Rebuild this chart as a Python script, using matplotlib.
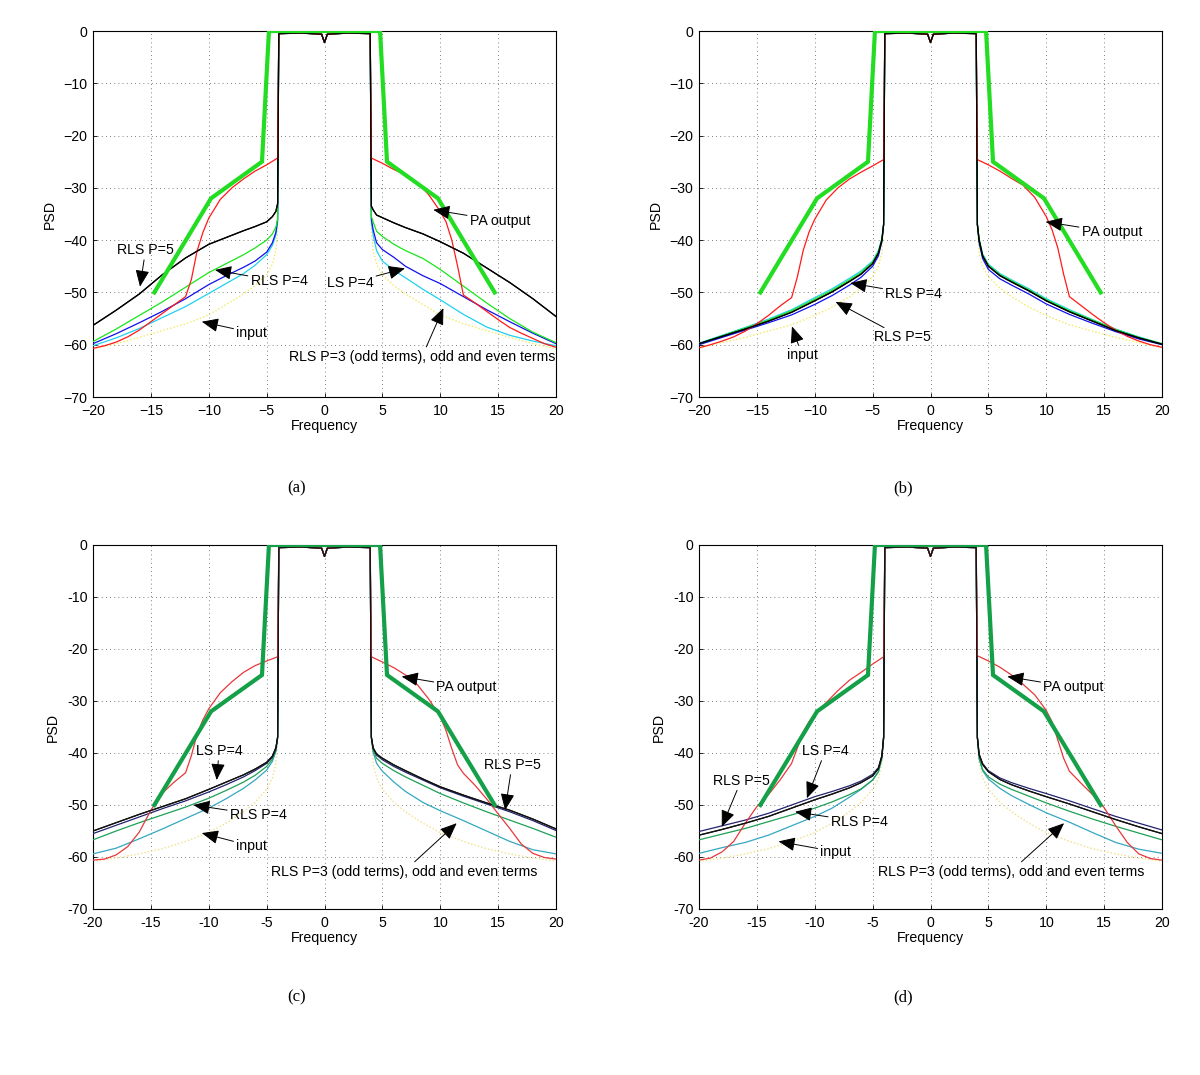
import numpy as np
import matplotlib
matplotlib.use("Agg")
import matplotlib.pyplot as plt

plt.rcParams['font.family'] = ['Liberation Sans', 'DejaVu Sans']

# ---------------- data ----------------
# frequency grids (one-sided offsets; left side uses the mirrored negatives)
F_OUT = [4.05, 4.2, 4.5, 5, 6, 7, 8.5, 10, 12, 14, 16, 18, 20]
F_RED = [4.05, 5, 6, 7, 8, 9, 10, 10.5, 11, 11.5, 12, 13, 14, 15, 16, 17, 18, 19, 20]
F_IN = [-3.95, -2.0, -0.25, 0.0, 0.25, 2.0, 3.95]
PSD_IN = [-0.5, -0.4, -0.6, -2.2, -0.6, -0.4, -0.5]

# spectral mask (thick green)
MASK_F = [-14.7, -9.8, -5.4, -4.8, 4.8, 5.4, 9.8, 14.7]
MASK_P = [-50, -32, -25, 0, 0, -25, -32, -50]

XTICKS = [-20, -15, -10, -5, 0, 5, 10, 15, 20]
YTICKS = [-70, -60, -50, -40, -30, -20, -10, 0]
YLAB_AB = ['\u221270', '\u221260', '\u221250', '\u221240', '\u221230', '\u221220', '\u221210', '0']
XLAB_AB = ['\u221220', '\u221215', '\u221210', '\u22125', '0', '5', '10', '15', '20']
YLAB_CD = ['-70', '-60', '-50', '-40', '-30', '-20', '-10', '0']
XLAB_CD = ['-20', '-15', '-10', '-5', '0', '5', '10', '15', '20']

# ---- panel (a) ---- left lists run from -20 up to -4.05, right lists from 4.05 to 20
a_black_L = [-56.3, -53.4, -50.3, -46.6, -43.4, -40.8, -39.5, -38.2, -37.4, -36.5, -35.5, -34.5, -33.0]
a_black_R = [-33.5, -34.2, -35.2, -35.7, -36.7, -37.6, -38.8, -40.3, -42.5, -45.3, -48.1, -51.2, -54.6]
a_green_L = [-59.4, -57.0, -54.4, -51.8, -49.0, -46.2, -44.5, -42.8, -41.5, -40.0, -38.8, -37.5, -36.0]
a_green_R = [-35.5, -36.5, -38.3, -39.3, -40.8, -42.0, -43.5, -45.6, -48.8, -52.0, -55.0, -57.6, -59.6]
a_blue_L = [-59.8, -57.9, -55.8, -53.6, -51.2, -48.5, -46.8, -45.2, -44.0, -42.3, -40.5, -38.5, -36.0]
a_blue_R = [-36.0, -38.0, -40.5, -41.8, -43.3, -45.0, -46.8, -48.3, -50.8, -53.3, -55.6, -57.8, -59.8]
a_cyan_L = [-60.2, -58.7, -56.9, -54.8, -52.7, -50.2, -48.3, -46.4, -44.8, -42.8, -41.0, -39.0, -36.5]
a_cyan_R = [-36.5, -39.0, -42.0, -44.0, -45.8, -47.2, -49.4, -51.4, -54.2, -56.6, -58.2, -59.3, -60.2]
a_input_L = [-60.8, -59.8, -58.6, -57.3, -56.0, -54.3, -52.3, -50.3, -48.7, -46.6, -44.6, -42.0, -38.0]
a_input_R = [-38.0, -42.0, -44.6, -46.6, -48.7, -50.3, -52.3, -54.3, -56.0, -57.3, -58.6, -59.8, -60.8]
a_red_L = [-60.7, -60.2, -59.5, -58.5, -57.2, -55.6, -54.0, -52.4, -50.8, -47.5, -42.0, -38.5, -35.8,
           -32.2, -30.0, -28.3, -26.8, -25.6, -24.3]
a_red_R = [-24.3, -25.3, -26.5, -27.5, -29.0, -31.3, -34.5, -36.5, -40.0, -45.0, -50.5, -52.0, -53.6,
           -55.2, -56.7, -57.8, -58.8, -59.8, -60.5]

# ---- panel (b) ----
b_black_L = [-59.8, -58.4, -57.0, -55.5, -53.8, -51.6, -49.9, -47.9, -46.5, -44.5, -42.5, -40.0, -37.0]
b_black_R = [-37.0, -40.0, -43.0, -45.0, -46.8, -48.0, -49.7, -51.6, -53.7, -55.5, -57.3, -58.7, -59.9]
b_blue_L = [-60.0, -58.6, -57.2, -55.8, -54.3, -52.3, -50.6, -48.6, -47.1, -45.0, -43.0, -40.3, -37.0]
b_blue_R = [-37.0, -40.5, -43.5, -45.6, -47.4, -48.6, -50.3, -52.2, -54.2, -55.9, -57.5, -58.9, -60.0]
b_cyan_L = [-59.7, -58.2, -56.7, -55.1, -53.3, -51.0, -49.3, -47.3, -45.9, -44.0, -42.0, -39.7, -37.0]
b_cyan_R = [-37.0, -39.7, -42.6, -44.6, -46.4, -47.6, -49.3, -51.2, -53.3, -55.2, -57.0, -58.5, -59.8]
b_green_L = [-59.8, -58.3, -56.8, -55.3, -53.5, -51.3, -49.6, -47.6, -46.2, -44.2, -42.2, -39.8, -37.0]
b_green_R = [-37.0, -39.8, -42.8, -44.8, -46.6, -47.8, -49.5, -51.4, -53.5, -55.3, -57.1, -58.6, -59.8]
b_input_L = [-60.6, -59.6, -58.6, -57.4, -56.2, -54.4, -52.8, -50.8, -49.2, -47.0, -45.0, -42.5, -38.0]
b_input_R = [-38.0, -42.5, -45.0, -47.0, -49.2, -50.8, -52.8, -54.4, -56.2, -57.4, -58.6, -59.6, -60.6]
b_red_L = [-60.6, -60.0, -59.3, -58.5, -57.4, -56.0, -54.4, -52.6, -51.0, -47.0, -42.0, -38.5, -36.0,
           -32.3, -30.0, -28.3, -27.0, -25.8, -24.6]
b_red_R = [-24.6, -25.6, -26.8, -28.2, -29.5, -31.8, -35.5, -38.0, -41.5, -46.5, -50.8, -52.5, -54.2,
           -55.8, -57.2, -58.4, -59.3, -60.0, -60.5]

# ---- panel (c) ----
c_black_L = [-55.0, -53.4, -51.8, -50.3, -48.8, -47.0, -45.6, -44.2, -43.1, -41.8, -40.6, -39.0, -37.0]
c_black_R = [-37.0, -39.0, -40.2, -41.0, -42.3, -43.4, -45.0, -46.5, -48.1, -49.6, -51.0, -52.7, -54.6]
c_navy_L = [-55.5, -53.9, -52.3, -50.7, -49.2, -47.5, -46.1, -44.6, -43.4, -42.0, -40.8, -39.2, -37.0]
c_navy_R = [-37.0, -39.1, -40.4, -41.3, -42.6, -43.7, -45.2, -46.7, -48.3, -49.8, -51.3, -53.0, -54.9]
c_green_L = [-56.7, -55.0, -53.4, -51.9, -50.4, -48.7, -47.2, -45.6, -44.3, -42.6, -41.2, -39.5, -37.0]
c_green_R = [-37.0, -39.5, -41.0, -42.0, -43.4, -44.6, -46.2, -47.8, -49.6, -51.3, -52.9, -54.5, -56.2]
c_cyan_L = [-59.4, -58.3, -56.5, -54.6, -52.6, -50.6, -48.8, -46.8, -45.2, -43.3, -41.6, -39.7, -37.0]
c_cyan_R = [-37.0, -39.8, -42.0, -43.5, -45.6, -47.4, -49.5, -51.1, -53.0, -55.0, -57.0, -58.6, -59.4]
c_input_L = [-60.8, -60.2, -59.4, -58.4, -57.0, -55.3, -53.5, -51.3, -49.5, -47.0, -44.8, -42.0, -38.0]
c_input_R = [-38.0, -42.0, -44.8, -47.0, -49.5, -51.3, -53.5, -55.3, -57.0, -58.4, -59.4, -60.2, -60.8]
c_red_L = [-60.6, -60.4, -59.6, -58.0, -55.2, -51.0, -47.7, -45.6, -43.8, -40.5, -36.3, -33.6, -31.5,
           -28.4, -26.3, -24.5, -23.2, -22.3, -21.5]
c_red_R = [-21.5, -22.5, -23.6, -25.0, -26.8, -29.6, -33.0, -35.7, -39.2, -42.3, -43.9, -46.2, -48.8,
           -51.7, -54.5, -57.5, -59.3, -60.1, -60.4]

# ---- panel (d) ----
d_navy_L = [-55.1, -54.0, -52.9, -51.6, -50.0, -48.4, -47.4, -46.3, -45.4, -44.1, -42.8, -40.5, -37.0]
d_navy_R = [-37.0, -40.2, -42.0, -43.4, -44.8, -45.7, -46.8, -47.8, -49.2, -50.7, -52.2, -53.5, -54.8]
d_black_L = [-55.8, -54.7, -53.5, -52.2, -50.6, -49.0, -47.9, -46.7, -45.7, -44.4, -43.0, -40.6, -37.0]
d_black_R = [-37.0, -40.3, -42.2, -43.6, -45.1, -46.1, -47.3, -48.4, -49.8, -51.3, -52.8, -54.2, -55.5]
d_green_L = [-56.7, -55.6, -54.5, -53.2, -51.9, -50.6, -49.4, -48.0, -46.9, -45.2, -43.6, -41.0, -37.0]
d_green_R = [-37.0, -41.0, -43.2, -44.6, -46.0, -47.0, -48.3, -49.6, -51.2, -52.7, -54.1, -55.4, -56.7]
d_cyan_L = [-59.3, -58.2, -57.2, -55.8, -54.0, -52.2, -50.6, -48.5, -47.0, -45.2, -43.6, -41.0, -37.0]
d_cyan_R = [-37.0, -41.0, -43.4, -45.0, -46.8, -48.2, -49.9, -51.5, -53.3, -55.3, -57.2, -58.5, -59.3]
d_input_L = [-60.8, -60.2, -59.4, -58.4, -57.0, -55.3, -53.5, -51.3, -49.5, -47.0, -44.8, -42.0, -38.0]
d_input_R = [-38.0, -42.0, -44.8, -47.0, -49.5, -51.3, -53.5, -55.3, -57.0, -58.4, -59.4, -60.2, -60.8]
d_red_L = [-60.6, -60.2, -59.0, -57.0, -53.5, -50.3, -48.0, -45.2, -42.0, -39.0, -36.0, -34.0, -32.6,
           -30.3, -28.0, -26.0, -24.5, -22.9, -21.5]
d_red_R = [-21.3, -22.3, -23.5, -25.0, -26.8, -28.8, -31.8, -34.0, -37.5, -41.0, -43.5, -45.8, -48.0,
           -50.5, -54.0, -57.2, -59.4, -60.3, -60.6]

LONG = 'RLS P=3 (odd terms), odd and even terms'
# annotations: (text, text centre (f, psd), arrow tip (f, psd))
ANN_A = [('PA output', (15.16, -36.3), (9.4, -34.2)),
         ('RLS P=5', (-15.46, -41.9), (-15.94, -48.9)),
         ('RLS P=4', (-3.93, -47.9), (-9.46, -45.7)),
         ('LS P=4', (2.2, -48.2), (6.95, -45.4)),
         ('input', (-6.29, -57.7), (-10.6, -55.6)),
         (LONG, (8.42, -62.3), (10.27, -53.0))]
ANN_B = [('PA output', (15.67, -38.5), (9.96, -36.5)),
         ('RLS P=4', (-1.45, -50.3), (-6.93, -48.2)),
         ('RLS P=5', (-2.42, -58.6), (-8.2, -51.8)),
         ('input', (-11.1, -62.0), (-11.97, -56.5))]
ANN_C = [('PA output', (12.28, -27.4), (6.67, -25.3)),
         ('LS P=4', (-9.11, -39.6), (-9.31, -45.2)),
         ('RLS P=4', (-5.72, -51.9), (-11.33, -50.0)),
         ('input', (-6.29, -57.9), (-10.6, -55.4)),
         ('RLS P=5', (16.2, -42.3), (15.6, -51.0)),
         (LONG, (6.87, -62.8), (11.42, -53.5))]
ANN_D = [('PA output', (12.35, -27.4), (6.64, -25.3)),
         ('LS P=4', (-9.09, -39.6), (-10.68, -48.7)),
         ('RLS P=5', (-16.36, -45.3), (-18.03, -54.2)),
         ('RLS P=4', (-6.15, -53.2), (-11.7, -51.3)),
         ('input', (-8.18, -59.0), (-13.13, -57.0)),
         (LONG, (6.93, -62.8), (11.54, -53.5))]

CAPTIONS = ['(a)', '(b)', '(c)', '(d)']


def full_x(grid):
    return [-g for g in reversed(grid)] + F_IN + list(grid)


def full_y(left, right):
    return list(left) + PSD_IN + list(right)


# ---------------- figure ----------------
fig = plt.figure(figsize=(12, 10.75), dpi=100)

W = 463 / 1200
H_TOP = 366 / 1075
H_BOT = 364 / 1075
positions = [
    (93 / 1200, 1 - 397 / 1075, W, H_TOP),
    (699 / 1200, 1 - 397 / 1075, W, H_TOP),
    (93 / 1200, 1 - 909 / 1075, W, H_BOT),
    (699 / 1200, 1 - 909 / 1075, W, H_BOT),
]

bright = dict(red='#ff1a1a', green='#19e619', blue='#1010ee', cyan='#20d0f0',
              input='#f2ea60', black='#000000', mask='#22dd22', navy='#101070')
muted = dict(red='#e8383a', green='#1da055', blue='#22226e', cyan='#33a8c0',
             input='#f0e08a', black='#111111', mask='#14a048', navy='#23236e')

panels = [
    dict(lines=[('input', a_input_L, a_input_R), ('cyan', a_cyan_L, a_cyan_R),
                ('blue', a_blue_L, a_blue_R), ('green', a_green_L, a_green_R),
                ('black', a_black_L, a_black_R)],
         red=(a_red_L, a_red_R), cols=bright, ann=ANN_A, yl=YLAB_AB, xl=XLAB_AB),
    dict(lines=[('input', b_input_L, b_input_R), ('blue', b_blue_L, b_blue_R),
                ('cyan', b_cyan_L, b_cyan_R), ('green', b_green_L, b_green_R),
                ('black', b_black_L, b_black_R)],
         red=(b_red_L, b_red_R), cols=bright, ann=ANN_B, yl=YLAB_AB, xl=XLAB_AB),
    dict(lines=[('input', c_input_L, c_input_R), ('cyan', c_cyan_L, c_cyan_R),
                ('green', c_green_L, c_green_R), ('navy', c_navy_L, c_navy_R),
                ('black', c_black_L, c_black_R)],
         red=(c_red_L, c_red_R), cols=muted, ann=ANN_C, yl=YLAB_CD, xl=XLAB_CD),
    dict(lines=[('input', d_input_L, d_input_R), ('cyan', d_cyan_L, d_cyan_R),
                ('green', d_green_L, d_green_R), ('navy', d_navy_L, d_navy_R),
                ('black', d_black_L, d_black_R)],
         red=(d_red_L, d_red_R), cols=muted, ann=ANN_D, yl=YLAB_CD, xl=XLAB_CD),
]

FS = 10.2
for i, (pos, p) in enumerate(zip(positions, panels)):
    ax = fig.add_axes(pos)
    cols = p['cols']
    xo = full_x(F_OUT)
    for name, L, R in p['lines']:
        if name == 'input':
            ax.plot(xo, full_y(L, R), color=cols['input'], lw=1.0, ls=(0, (1, 1.5)), zorder=2)
        else:
            ax.plot(xo, full_y(L, R), color=cols[name], lw=0.9, zorder=3)
    rl, rr = p['red']
    ax.plot(full_x(F_RED), full_y(rl, rr), color=cols['red'], lw=0.9, zorder=3)
    # black curve drawn again so the in-band trace is black
    ax.plot(full_x(F_OUT), full_y(p['lines'][-1][1], p['lines'][-1][2]),
            color=cols['black'], lw=0.9, zorder=4)
    ax.plot(MASK_F, MASK_P, color=cols['mask'], lw=3.0, zorder=5, solid_joinstyle='miter')

    ax.set_xlim(-20, 20)
    ax.set_ylim(-70, 0)
    ax.set_xticks(XTICKS)
    ax.set_xticklabels(p['xl'], fontsize=FS)
    ax.set_yticks(YTICKS)
    ax.set_yticklabels(p['yl'], fontsize=FS)
    ax.tick_params(direction='in', length=3, width=0.6, pad=4)
    ax.tick_params(axis='x', pad=5)
    ax.grid(True, color='#555555', lw=0.6, ls=(0, (1, 4)))
    for s in ax.spines.values():
        s.set_linewidth(0.8)
    ax.set_xlabel('Frequency', fontsize=FS, labelpad=1)
    ax.set_ylabel('PSD', fontsize=FS, labelpad=5)

    for txt, tpos, tip in p['ann']:
        ax.annotate(txt, xy=tip, xytext=tpos, ha='center', va='center', fontsize=FS,
                    zorder=6,
                    arrowprops=dict(arrowstyle='-|>,head_length=1.0,head_width=0.42',
                                    color='black', lw=0.7, shrinkA=0, shrinkB=0))

    cx = pos[0] + W * (204 / 463)
    cy = (1 - 488 / 1075) if i < 2 else (1 - 997 / 1075)
    fig.text(cx, cy, CAPTIONS[i], ha='center', va='center', fontsize=12,
             family=['Liberation Serif', 'DejaVu Serif'])

fig.savefig('out.png', dpi=100)
